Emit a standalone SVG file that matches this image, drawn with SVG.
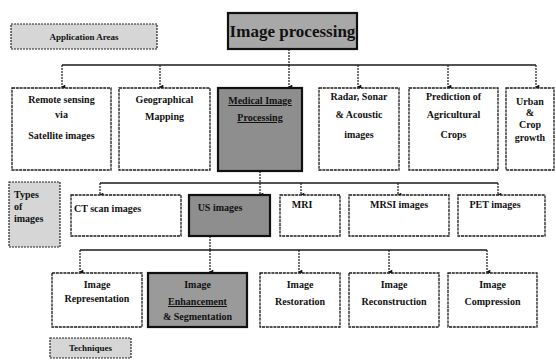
<svg xmlns="http://www.w3.org/2000/svg" width="556" height="360" viewBox="0 0 556 360">
<style>
  .bg{fill:#ffffff}
  .box{fill:#ffffff;stroke:#1a1a1a;stroke-width:1.3;stroke-dasharray:3 0.8}
  .dark{fill:#969696;stroke:#111;stroke-width:2.2}
  .light{fill:#d6d6d6;stroke:#222;stroke-width:1.2;stroke-dasharray:2 1}
  text{font-family:'Liberation Serif','DejaVu Serif',serif;font-weight:bold;font-size:10px;fill:#111;text-anchor:middle}
  .tl{text-anchor:start}
  .title{font-size:17px}
  .u{text-decoration:underline}
  .bus{stroke:#1a1a1a;stroke-width:1.4;fill:none}
  .drop{stroke:#1a1a1a;stroke-width:1.2;stroke-dasharray:2 1;fill:none}
</style>
<defs>
  <marker id="dot" viewBox="0 0 6 6" refX="3" refY="5" markerWidth="5" markerHeight="5" orient="auto-start-reverse" markerUnits="userSpaceOnUse">
    <path d="M0,1 L6,1 L3,6 Z" fill="#111"/>
  </marker>
</defs>
<rect class="bg" x="0" y="0" width="556" height="360"/>

<g id="connectors">
  <line class="drop" x1="289" y1="49" x2="289" y2="65"/>
  <line class="bus" x1="62" y1="65" x2="536" y2="65"/>
  <line class="drop" x1="62" y1="65" x2="62" y2="87" marker-end="url(#dot)"/>
  <line class="drop" x1="160" y1="65" x2="160" y2="87" marker-end="url(#dot)"/>
  <line class="drop" x1="289" y1="65" x2="289" y2="87" marker-end="url(#dot)"/>
  <line class="drop" x1="358" y1="65" x2="358" y2="87" marker-end="url(#dot)"/>
  <line class="drop" x1="448" y1="65" x2="448" y2="87" marker-end="url(#dot)"/>
  <line class="drop" x1="536" y1="65" x2="536" y2="87" marker-end="url(#dot)"/>
  <line class="drop" x1="260" y1="171" x2="260" y2="183"/>
  <line class="bus" x1="100" y1="183" x2="498" y2="183"/>
  <line class="drop" x1="100" y1="183" x2="100" y2="195" marker-end="url(#dot)"/>
  <line class="drop" x1="260" y1="183" x2="260" y2="195" marker-end="url(#dot)"/>
  <line class="drop" x1="301" y1="183" x2="301" y2="195" marker-end="url(#dot)"/>
  <line class="drop" x1="398" y1="183" x2="398" y2="195" marker-end="url(#dot)"/>
  <line class="drop" x1="498" y1="183" x2="498" y2="195" marker-end="url(#dot)"/>
  <line class="drop" x1="210" y1="236" x2="210" y2="250"/>
  <line class="bus" x1="80" y1="250" x2="487" y2="250"/>
  <line class="drop" x1="80" y1="250" x2="80" y2="272" marker-end="url(#dot)"/>
  <line class="drop" x1="210" y1="250" x2="210" y2="272" marker-end="url(#dot)"/>
  <line class="drop" x1="299" y1="250" x2="299" y2="272" marker-end="url(#dot)"/>
  <line class="drop" x1="389" y1="250" x2="389" y2="272" marker-end="url(#dot)"/>
  <line class="drop" x1="487" y1="250" x2="487" y2="272" marker-end="url(#dot)"/>
</g>

<g id="image-processing">
  <rect class="dark" x="228" y="13" width="129" height="36" style="fill:#a8a8a8"/>
  <text class="title" x="292.5" y="37">Image processing</text>
</g>
<g id="application-areas">
  <rect class="light" x="11" y="24" width="146" height="25"/>
  <text x="84" y="40" style="font-size:9px">Application Areas</text>
</g>

<g id="remote-sensing">
  <rect class="box" x="12" y="88" width="99" height="82"/>
  <text x="61.5" y="103">Remote sensing</text>
  <text x="61.5" y="118">via</text>
  <text x="61.5" y="139">Satellite images</text>
</g>
<g id="geographical-mapping">
  <rect class="box" x="119" y="88" width="91" height="82"/>
  <text x="164.5" y="103">Geographical</text>
  <text x="164.5" y="120">Mapping</text>
</g>
<g id="medical-image-processing">
  <rect class="dark" x="218" y="88" width="84" height="83" style="fill:#8e8e8e"/>
  <text class="u" x="260" y="104">Medical Image</text>
  <text class="u" x="260" y="121">Processing</text>
</g>
<g id="radar-sonar">
  <rect class="box" x="319" y="88" width="80" height="82"/>
  <text x="359" y="100">Radar, Sonar</text>
  <text x="359" y="118">&amp; Acoustic</text>
  <text x="359" y="138">images</text>
</g>
<g id="prediction-crops">
  <rect class="box" x="409" y="88" width="89" height="82"/>
  <text x="453.5" y="100">Prediction of</text>
  <text x="453.5" y="118">Agricultural</text>
  <text x="453.5" y="138">Crops</text>
</g>
<g id="urban-crop-growth">
  <rect class="box" x="506" y="88" width="48" height="82"/>
  <text x="530" y="105">Urban</text>
  <text x="530" y="116">&amp;</text>
  <text x="530" y="128">Crop</text>
  <text x="530" y="141">growth</text>
</g>

<g id="types-of-images">
  <rect class="light" x="9" y="182" width="51" height="65"/>
  <text class="tl" x="14" y="198">Types</text>
  <text class="tl" x="14" y="210">of</text>
  <text class="tl" x="14" y="222">images</text>
</g>
<g id="ct-scan">
  <rect class="box" x="71" y="195" width="110" height="41"/>
  <text class="tl" x="74" y="212">CT scan images</text>
</g>
<g id="us-images">
  <rect class="dark" x="189" y="195" width="81" height="41" style="fill:#8e8e8e"/>
  <text x="220" y="211">US images</text>
</g>
<g id="mri">
  <rect class="box" x="280" y="195" width="60" height="41"/>
  <text x="302" y="208">MRI</text>
</g>
<g id="mrsi-images">
  <rect class="box" x="349" y="195" width="100" height="41"/>
  <text x="399" y="208">MRSI images</text>
</g>
<g id="pet-images">
  <rect class="box" x="458" y="195" width="87" height="41"/>
  <text x="495" y="208">PET images</text>
</g>

<g id="image-representation">
  <rect class="box" x="52" y="273" width="90" height="54"/>
  <text x="97" y="288">Image</text>
  <text x="97" y="302">Representation</text>
</g>
<g id="image-enhancement">
  <rect class="dark" x="148" y="273" width="99" height="54" style="fill:#9a9a9a"/>
  <text x="197.5" y="288">Image</text>
  <text class="u" x="197.5" y="305">Enhancement</text>
  <text x="197.5" y="320">&amp; Segmentation</text>
</g>
<g id="image-restoration">
  <rect class="box" x="260" y="273" width="80" height="54"/>
  <text x="300" y="288">Image</text>
  <text x="300" y="305">Restoration</text>
</g>
<g id="image-reconstruction">
  <rect class="box" x="349" y="273" width="90" height="54"/>
  <text x="394" y="288">Image</text>
  <text x="394" y="305">Reconstruction</text>
</g>
<g id="image-compression">
  <rect class="box" x="448" y="273" width="89" height="54"/>
  <text x="492.5" y="288">Image</text>
  <text x="492.5" y="305">Compression</text>
</g>

<g id="techniques">
  <rect class="light" x="50" y="338" width="81" height="20"/>
  <text x="90.5" y="351" style="font-size:9px">Techniques</text>
</g>
</svg>
